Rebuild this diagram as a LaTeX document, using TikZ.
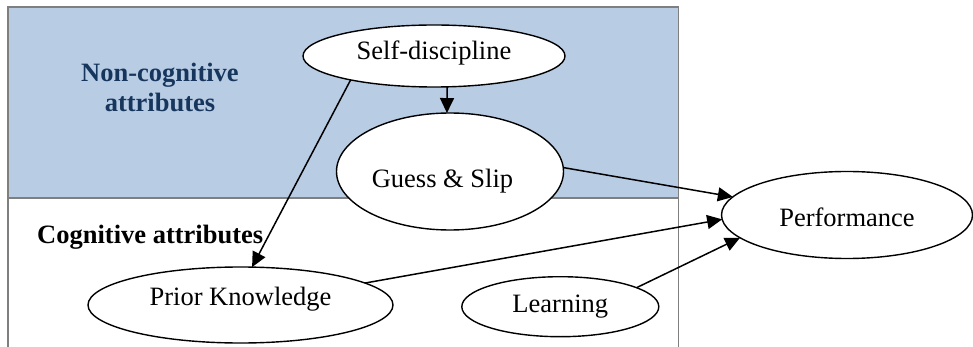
\documentclass[tikz,border=0pt]{standalone}
\usepackage{fontspec}
\setmainfont{Liberation Serif}
\usetikzlibrary{arrows.meta,shapes.geometric}
\definecolor{bandblue}{HTML}{B8CCE4}
\definecolor{navytext}{HTML}{17365D}
\definecolor{framegray}{HTML}{7F7F7F}
\begin{document}
\begin{tikzpicture}[x=1pt,y=-1pt,
  state/.style={ellipse,draw=black,fill=white,line width=1.4pt,inner sep=0pt,outer sep=0pt,
    font=\fontsize{26.5}{30}\selectfont},
  arr/.style={line width=1.5pt,-{Triangle[length=15pt,width=14pt]}},
  lbl/.style={font=\fontsize{26.5}{30}\selectfont\bfseries,inner sep=0pt},
  frameline/.style={draw=framegray,line width=1.4pt}]
\useasboundingbox (0,0) rectangle (973,347);
\fill[bandblue] (8,7) rectangle (678.7,198);
\draw[frameline] (8,347) -- (8,7) -- (678.7,7) -- (678.7,347);
\draw[frameline] (8,198) -- (678.7,198);
\node[lbl,text=navytext,align=center,anchor=base] (nc) at (160,112) {Non-cognitive\\attributes};
\node[lbl,anchor=base west] (cg) at (37,243) {Cognitive attributes};
\node[state,minimum width=262pt,minimum height=62pt,text height=7pt,text depth=0pt] (sd) at (434,56) {Self-discipline};
\node[state,minimum width=227pt,minimum height=117pt,text height=31.6pt,text depth=0pt] (gs) at (450,171.5) {\makebox[0pt]{Guess \& Slip\hspace*{15pt}}};
\node[state,minimum width=251pt,minimum height=87pt,text height=23.4pt,text depth=0pt] (pf) at (847,215) {Performance};
\node[state,minimum width=305pt,minimum height=76pt,text height=0pt,text depth=0pt] (pk) at (240.5,305) {Prior Knowledge};
\node[state,minimum width=197pt,minimum height=60pt,text height=10.6pt,text depth=0pt] (ln) at (560.3,306.7) {Learning};
\draw[arr] (sd.-67) -- (gs.93);
\draw[arr] (sd.196.8) -- (pk.73.6);
\draw[arr] (gs.2.4) -- (pf.171.7);
\draw[arr] (pk.10.4) -- (pf.182);
\draw[arr] (ln.14.2) -- (pf.192.8);
\end{tikzpicture}
\end{document}
